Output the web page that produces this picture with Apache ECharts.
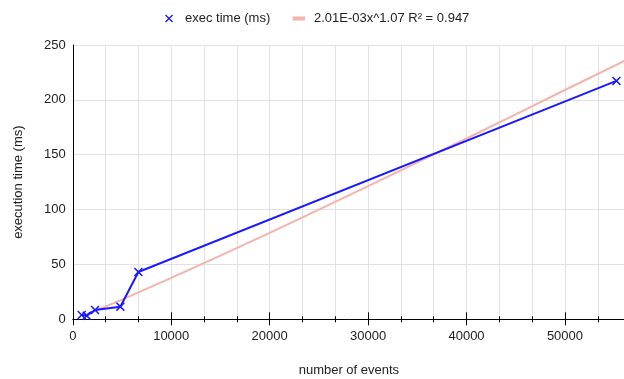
<!DOCTYPE html>
<html>
<head>
<meta charset="utf-8">
<script src="https://cdn.jsdelivr.net/npm/echarts@6/dist/echarts.min.js"></script>
<style>html,body{margin:0;padding:0;background:#fff}#c{width:624px;height:379px}</style>
</head>
<body>
<div id="c"></div>
<script>
// Measured data (number of events, exec time in ms)
const events = [905, 1414, 2258, 4832, 6663, 55230];
const execTimes = [3.9, 3.3, 8.5, 11.5, 43.1, 217.3];
// Trendline points (2.01E-03x^1.07)
const trendX = [905, 2500, 5000, 10000, 15000, 20000, 25000, 30000, 35000, 40000, 45000, 50000, 56100];
const trendY = [2.9, 8.6, 18.0, 37.7, 58.0, 78.8, 99.9, 121.3, 143.0, 164.8, 186.8, 209.0, 235.7];
const seriesNames = ['exec time (ms)', '2.01E-03x^1.07 R\u00B2 = 0.947'];
const xTitle = 'number of events';
const yTitle = 'execution time (ms)';
const xMax = 56100;

const xPath = 'path://M0,1.2L1.2,0L5,3.8L8.8,0L10,1.2L6.2,5L10,8.8L8.8,10L5,6.2L1.2,10L0,8.8L3.8,5Z';
const font = 'Arial, "Liberation Sans", sans-serif';
const txt = {fontFamily: font, fontSize: 13, color: '#222'};

function tickAxis(interval, len, inside) {
  return {
    type: 'value', min: 0, max: xMax, interval: interval, position: 'bottom', offset: 0,
    axisLine: {show: false},
    axisTick: {show: true, inside: inside, length: len, lineStyle: {color: '#000', width: 1}},
    axisLabel: {show: false},
    splitLine: {show: false}
  };
}

const chart = echarts.init(document.getElementById('c'), null, {renderer: 'canvas'});
chart.setOption({
  animation: false,
  textStyle: {fontFamily: font},
  grid: {left: 72.8, right: -1, top: 45, bottom: 59.7, containLabel: false, outerBoundsMode: 'none'},
  legend: [{
    data: [{name: seriesNames[0], icon: xPath}],
    left: 165, top: 12, padding: 0, itemWidth: 12, itemHeight: 8,
    textStyle: Object.assign({}, txt, {padding: [0, 0, 0, 5]})
  }, {
    data: [{name: seriesNames[1], icon: 'path://M0,0h12.3v4h-12.3z'}],
    left: 292.7, top: 12, padding: 0, itemWidth: 12.3, itemHeight: 8,
    textStyle: Object.assign({}, txt, {padding: [0, 0, 0, 4]})
  }],
  xAxis: [{
    type: 'value', min: 0, max: xMax, interval: 10000 / 3, position: 'bottom',
    name: xTitle, nameLocation: 'middle', nameGap: 45,
    nameTextStyle: txt,
    axisLine: {show: true, lineStyle: {color: '#000', width: 1}},
    axisTick: {show: true, length: 3, lineStyle: {color: '#000'}},
    axisLabel: Object.assign({}, txt, {
      interval: 0, showMaxLabel: false, margin: 11,
      formatter: v => {
        const k = v / 10000;
        return Math.abs(k - Math.round(k)) < 1e-6 ? String(Math.round(v)) : '';
      }
    }),
    splitLine: {show: true, lineStyle: {color: '#e2e2e2', width: 1}}
  },
    tickAxis(10000 / 3, 3, true),
    tickAxis(10000, 6, false),
    tickAxis(10000, 7, true)
  ],
  yAxis: {
    type: 'value', min: 0, max: 250, interval: 50,
    name: yTitle, nameLocation: 'middle', nameGap: 48,
    nameTextStyle: txt,
    axisLine: {show: true, lineStyle: {color: '#000', width: 1}},
    axisTick: {show: false},
    axisLabel: Object.assign({}, txt, {margin: 7}),
    splitLine: {show: true, lineStyle: {color: '#e2e2e2', width: 1}}
  },
  series: [{
    name: seriesNames[1], type: 'line', z: 1, xAxisIndex: 0,
    data: trendX.map((x, i) => [x, trendY[i]]),
    showSymbol: false, symbol: 'none',
    itemStyle: {color: '#f4b3ac'},
    lineStyle: {color: '#f4b3ac', width: 2}
  }, {
    name: seriesNames[0], type: 'line', z: 3, xAxisIndex: 0,
    data: events.map((x, i) => [x, execTimes[i]]),
    symbol: xPath, symbolSize: 9,
    itemStyle: {color: '#1a1aff'},
    lineStyle: {color: '#1a1aff', width: 2}
  }]
});
</script>
</body>
</html>
